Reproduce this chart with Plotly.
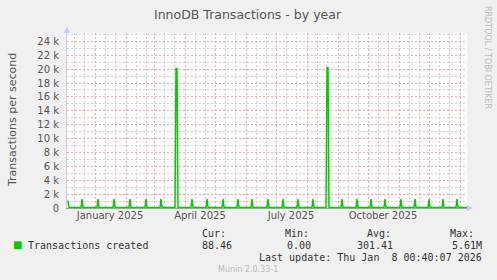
import plotly.graph_objects as go
import pandas as pd

# ---- data ----
x_start = "2024-12-04"
x_end = "2026-01-08"
baseline = 90
spike_dates = ["2024-12-05", "2024-12-19", "2025-01-04", "2025-01-20", "2025-02-05",
               "2025-02-21", "2025-03-08", "2025-03-23", "2025-04-08", "2025-04-23",
               "2025-05-09", "2025-05-24", "2025-06-07", "2025-06-23", "2025-07-08",
               "2025-07-23", "2025-08-07", "2025-08-21", "2025-09-05", "2025-09-20",
               "2025-10-04", "2025-10-18", "2025-11-03", "2025-11-17", "2025-12-01",
               "2025-12-15", "2025-12-29"]
spike_values = [950, 1300, 1300, 1300, 1300, 1300, 1300, 20100, 1300, 1300,
                1300, 1300, 1300, 1300, 1300, 1300, 1300, 20200, 1300, 1300,
                1300, 1300, 1300, 1300, 1300, 1300, 1300]
spike_days = [1, 1, 1, 1, 1, 1, 1, 2, 1, 1, 1, 1, 1, 1, 1, 1, 1, 2, 1, 1,
              1, 1, 1, 1, 1, 1, 1]

y_tickvals = [0, 2000, 4000, 6000, 8000, 10000, 12000, 14000, 16000, 18000, 20000, 22000, 24000]
y_ticktext = ["0", "2 k", "4 k", "6 k", "8 k", "10 k", "12 k", "14 k", "16 k", "18 k", "20 k", "22 k", "24 k"]
y_minor = [1000, 3000, 5000, 7000, 9000, 11000, 13000, 15000, 17000, 19000, 21000, 23000, 25000]
x_label_dates = ["2025-01-16", "2025-04-16", "2025-07-16", "2025-10-16"]
x_label_text = ["January 2025", "April 2025", "July 2025", "October 2025"]
month_starts = ["2025-01-01", "2025-02-01", "2025-03-01", "2025-04-01", "2025-05-01",
                "2025-06-01", "2025-07-01", "2025-08-01", "2025-09-01", "2025-10-01",
                "2025-11-01", "2025-12-01", "2026-01-01"]
minor_days = ["2024-12-11", "2024-12-21", "2025-01-11", "2025-01-21", "2025-02-11", "2025-02-21",
              "2025-03-11", "2025-03-21", "2025-04-11", "2025-04-21", "2025-05-11", "2025-05-21",
              "2025-06-11", "2025-06-21", "2025-07-11", "2025-07-21", "2025-08-11", "2025-08-21",
              "2025-09-11", "2025-09-21", "2025-10-11", "2025-10-21", "2025-11-11", "2025-11-21",
              "2025-12-11", "2025-12-21"]

legend_name = "Transactions created"
stat_cur, stat_min, stat_avg, stat_max = "88.46", "0.00", "301.41", "5.61M"
last_update = "Last update: Thu Jan  8 00:40:07 2026"

# ---- build line ----
xs, ys = [pd.Timestamp(x_start)], [spike_values[0]]
day = pd.Timedelta(days=1)
for d, v, n in zip(spike_dates, spike_values, spike_days):
    t = pd.Timestamp(d)
    if t - day > xs[-1]:
        xs.append(t - day); ys.append(baseline)
    for k in range(n):
        xs.append(t + k * day); ys.append(v)
    xs.append(t + n * day); ys.append(baseline)
xs.append(pd.Timestamp(x_end)); ys.append(baseline)

GREEN = "#00CC00"
fig = go.Figure()
fig.add_trace(go.Scatter(x=xs, y=ys, mode="lines", line=dict(color=GREEN, width=1.5),
                         hoverinfo="skip", showlegend=False))
fig.add_trace(go.Scatter(x=[x_start], y=[None], xaxis="x2", showlegend=False, hoverinfo="skip"))

grid_major = "#F6A6A6"
grid_minor = "#D0D0D0"
dash = "2px,2px"
tickfont = dict(family="DejaVu Sans", size=10, color="#555555")

fig.update_layout(
    width=497, height=280,
    margin=dict(l=67, r=30, t=33, b=72),
    paper_bgcolor="#F0F0F0", plot_bgcolor="#FFFFFF",
    font=dict(family="DejaVu Sans", color="#555555"),
    xaxis=dict(type="date", range=[x_start, x_end], tickmode="array", tickvals=month_starts,
               ticktext=[""] * len(month_starts), ticks="", showgrid=True,
               gridcolor=grid_major, griddash=dash, gridwidth=1,
               minor=dict(tickmode="array", tickvals=minor_days, showgrid=True,
                          gridcolor=grid_minor, griddash=dash, gridwidth=1, ticks=""),
               showline=True, linecolor="#A0A0A0", linewidth=1, zeroline=False, fixedrange=True),
    xaxis2=dict(type="date", range=[x_start, x_end], overlaying="x", anchor="y", side="bottom",
                tickmode="array", tickvals=x_label_dates, ticktext=x_label_text,
                showgrid=False, ticks="", tickfont=tickfont, showline=False, zeroline=False),
    yaxis=dict(range=[0, 25200], tickmode="array", tickvals=y_tickvals, ticktext=y_ticktext,
               tickfont=tickfont, ticks="", showgrid=True, gridcolor=grid_major,
               griddash=dash, gridwidth=1, ticklabelstandoff=5,
               minor=dict(tickmode="array", tickvals=y_minor, showgrid=True, gridcolor=grid_minor,
                          griddash=dash, gridwidth=1, ticks=""),
               showline=True, linecolor="#CCCCF0", linewidth=1, zeroline=False),
)

# axis arrows
fig.add_shape(type="path", xref="paper", yref="paper", xsizemode="pixel", ysizemode="pixel",
              xanchor=0, yanchor=1, path="M-3,0 L3,0 L0,6 Z",
              fillcolor="#C8C8F8", line=dict(width=0))
fig.add_shape(type="path", xref="paper", yref="paper", xsizemode="pixel", ysizemode="pixel",
              xanchor=1, yanchor=0, path="M0,-3 L0,3 L6,0 Z",
              fillcolor="#C8C8F8", line=dict(width=0))

mono = dict(family="DejaVu Sans Mono", size=10, color="#333333")


def px_ann(text, x, y, xanchor="left", font=None, textangle=0, yanchor="middle"):
    fig.add_annotation(text=text, xref="paper", yref="paper",
                       x=(x - 67) / 400, y=(208 - y) / 175, xanchor=xanchor, yanchor=yanchor,
                       showarrow=False, font=font or mono, textangle=textangle)


px_ann("InnoDB Transactions - by year", 248, 14, xanchor="center",
       font=dict(family="DejaVu Sans", size=12.5, color="#555555"))
px_ann("Transactions per second", 12, 120, xanchor="center",
       font=dict(family="DejaVu Sans", size=11, color="#555555"), textangle=-90)
px_ann("RRDTOOL / TOBI OETIKER", 488, 57, xanchor="center",
       font=dict(family="DejaVu Sans", size=8, color="#BBBBBB"), textangle=90)

px_ann("■", 17, 244.5, xanchor="center", font=dict(family="DejaVu Sans", size=10, color=GREEN))
px_ann(legend_name, 26, 245.5)
px_ann("Cur:", 200, 233.5)
px_ann(stat_cur, 200, 245.5)
px_ann("Min:", 283, 233.5)
px_ann(stat_min, 313, 245.5, xanchor="right")
px_ann("Avg:", 365, 233.5)
px_ann(stat_avg, 395, 245.5, xanchor="right")
px_ann("Max:", 448, 233.5)
px_ann(stat_max, 484, 245.5, xanchor="right")
px_ann(last_update, 484, 257.5, xanchor="right")
px_ann("Munin 2.0.33-1", 248, 269, xanchor="center",
       font=dict(family="DejaVu Sans", size=8, color="#BBBBBB"))

fig.write_html("out.html")
